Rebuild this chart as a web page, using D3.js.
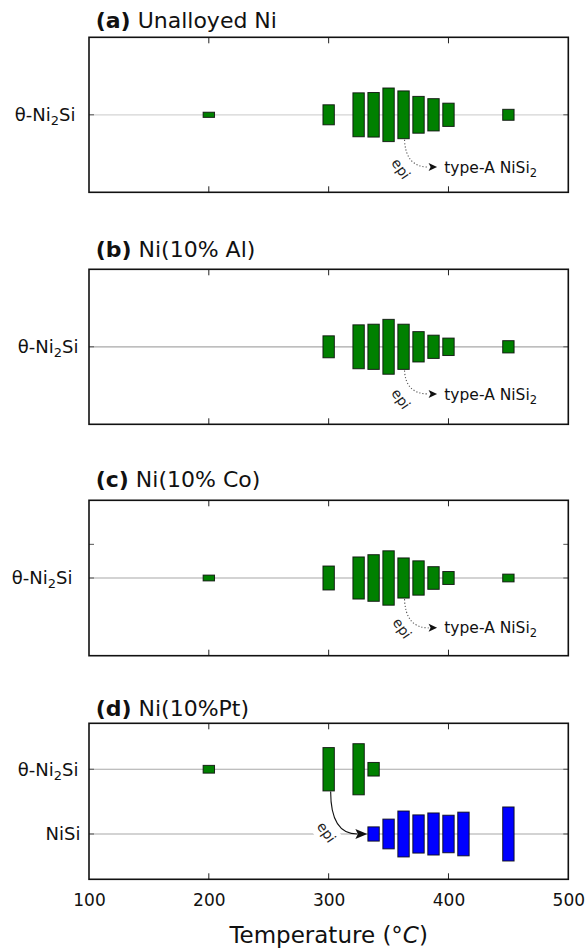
<!DOCTYPE html>
<html>
<head>
<meta charset="utf-8">
<script src="https://cdn.jsdelivr.net/npm/d3@7"></script>
<style>
  html, body { margin: 0; padding: 0; background: #fff; }
  svg { display: block; font-family: "DejaVu Sans", sans-serif; }
</style>
</head>
<body>
<svg id="chart" width="587" height="952"></svg>
<script>
// ---------------- data ----------------
const xTicks = [100, 200, 300, 400, 500];
const phaseNames = ["θ-Ni2Si", "NiSi"];
const panelTitles = [["(a)", " Unalloyed Ni"], ["(b)", " Ni(10% Al)"], ["(c)", " Ni(10% Co)"], ["(d)", " Ni(10%Pt)"]];

const tempsA = [200, 300, 325, 337.5, 350, 362.5, 375, 387.5, 400, 450];
const sizesA = [0.08, 0.31, 0.68, 0.69, 0.83, 0.74, 0.57, 0.50, 0.36, 0.17];

const tempsB = [300, 325, 337.5, 350, 362.5, 375, 387.5, 400, 450];
const sizesB = [0.34, 0.68, 0.70, 0.85, 0.70, 0.47, 0.36, 0.27, 0.19];

const tempsC = [200, 300, 325, 337.5, 350, 362.5, 375, 387.5, 400, 450];
const sizesC = [0.09, 0.37, 0.65, 0.72, 0.84, 0.62, 0.53, 0.35, 0.20, 0.12];

const tempsDTheta = [200, 300, 325, 337.5];
const sizesDTheta = [0.12, 0.67, 0.79, 0.21];

const tempsDNiSi = [337.5, 350, 362.5, 375, 387.5, 400, 412.5, 450];
const sizesDNiSi = [0.22, 0.46, 0.71, 0.59, 0.65, 0.58, 0.675, 0.835];

// ---------------- layout ----------------
const svg = d3.select("#chart");
const X0 = 89, X1 = 568.3;
const x = d3.scaleLinear().domain([100, 500]).range([X0, X1]);
const barHalfW = 4.75;
const GREEN = "#008000", BLUE = "#0000ff";

const panels = [
  { title: panelTitles[0], top: 37.3, bottom: 192.3, dom: [-1.2, 1.2], titleY: 28.3, gridColor: "#d4d4d4",
    cats: [{ name: phaseNames[0], idx: 0, labelX: 75.5 }],
    series: [{ t: tempsA, s: sizesA, cat: 0, color: GREEN }],
    extraYTicks: [], ann: { arrowStartT: 362.5, arrowStartS: sizesA[5], tipT: 390.5, tipY: 0.81, textT: 396.5, epiT: 360, epiY: 0.84 } },
  { title: panelTitles[1], top: 269.3, bottom: 424.3, dom: [-1.2, 1.2], titleY: 257.3, gridColor: "#a8a8a8",
    cats: [{ name: phaseNames[0], idx: 0, labelX: 78.5 }],
    series: [{ t: tempsB, s: sizesB, cat: 0, color: GREEN }],
    extraYTicks: [], ann: { arrowStartT: 362.5, arrowStartS: sizesB[4], tipT: 390.5, tipY: 0.73, textT: 396.5, epiT: 360, epiY: 0.81 } },
  { title: panelTitles[2], top: 500.3, bottom: 655.7, dom: [-1.2, 1.2], titleY: 486.7, gridColor: "#a8a8a8",
    cats: [{ name: phaseNames[0], idx: 0, labelX: 72.5 }],
    series: [{ t: tempsC, s: sizesC, cat: 0, color: GREEN }],
    extraYTicks: [-0.52], ann: { arrowStartT: 362.5, arrowStartS: sizesC[5], tipT: 390.5, tipY: 0.77, textT: 396.5, epiT: 361, epiY: 0.78 } },
  { title: panelTitles[3], top: 723.3, bottom: 879.3, dom: [-0.71, 1.70], titleY: 716, gridColor: "#a8a8a8",
    cats: [{ name: phaseNames[0], idx: 0, labelX: 78.5 }, { name: phaseNames[1], idx: 1, labelX: 80.5 }],
    series: [{ t: tempsDTheta, s: sizesDTheta, cat: 0, color: GREEN }, { t: tempsDNiSi, s: sizesDNiSi, cat: 1, color: BLUE }],
    extraYTicks: [], annD: { startT: 300, startS: sizesDTheta[1], tipT: 332.3, tipY: 1.0, epiT: 297.8, epiY: 0.977 }, xLabels: true }
];

function phaseLabel(g, name, xEnd, yc) {
  const t = g.append("text").attr("x", xEnd).attr("y", yc).attr("dy", "0.36em")
    .attr("text-anchor", "end").attr("font-size", 18).attr("fill", "#111");
  if (name.indexOf("2") >= 0) {
    const parts = name.split("2");
    t.append("tspan").text(parts[0]);
    t.append("tspan").attr("font-size", 13).attr("dy", 4).text("2");
    t.append("tspan").attr("dy", -4).text(parts[1]);
  } else {
    t.text(name);
  }
}

function epiLabel(g, cx, cy) {
  const eg = g.append("g").attr("transform", `translate(${cx},${cy}) rotate(55)`);
  eg.append("rect").attr("x", -13).attr("y", -11).attr("width", 26).attr("height", 22).attr("fill", "#fff");
  return eg;
}

panels.forEach((p) => {
  const g = svg.append("g");
  const y = d3.scaleLinear().domain(p.dom).range([p.top, p.bottom]);

  // title
  const tt = g.append("text").attr("x", 95.7).attr("y", p.titleY).attr("font-size", 22).attr("fill", "#111");
  tt.append("tspan").attr("font-weight", "bold").text(p.title[0]);
  tt.append("tspan").text(p.title[1]);

  // grid lines at categories
  p.cats.forEach(c => {
    g.append("line").attr("x1", X0).attr("x2", X1).attr("y1", y(c.idx)).attr("y2", y(c.idx))
      .attr("stroke", p.gridColor).attr("stroke-width", 1.2);
  });

  // annotation (dotted arrow) for a-c
  if (p.ann) {
    const a = p.ann;
    const sx = x(a.arrowStartT) + 1, sy = y(a.arrowStartS / 2) + 1;
    const tx = x(a.tipT), ty = y(a.tipY);
    const eg = epiLabel(g, x(a.epiT), y(a.epiY));
    eg.append("text").attr("text-anchor", "middle").attr("dy", "0.32em").attr("font-size", 14).attr("fill", "#222").text("epi");
    const bx = tx - 8.5;
    g.append("path").attr("d", `M${sx},${sy} Q${sx + 1},${ty} ${bx},${ty}`)
      .attr("fill", "none").attr("stroke", "#555").attr("stroke-width", 1.1).attr("stroke-dasharray", "1.2,2");
    g.append("path").attr("d", `M${tx},${ty} L${bx},${ty - 4} L${bx + 2},${ty} L${bx},${ty + 4} Z`).attr("fill", "#111");
    const at = g.append("text").attr("x", x(a.textT)).attr("y", ty).attr("dy", "0.36em").attr("font-size", 15.5).attr("fill", "#111");
    at.append("tspan").text("type-A NiSi");
    at.append("tspan").attr("font-size", 11.5).attr("dy", 4).text("2");
  }

  if (p.annD) {
    const a = p.annD;
    const eg = epiLabel(g, x(a.epiT), y(a.epiY));
    eg.append("text").attr("text-anchor", "middle").attr("dy", "0.32em").attr("font-size", 14).attr("fill", "#222").text("epi");
  }

  // bars
  p.series.forEach(sr => {
    const data = sr.t.map((t, i) => ({ t, s: sr.s[i] }));
    g.selectAll(null).data(data).enter().append("rect")
      .attr("x", d => x(d.t - barHalfW))
      .attr("width", d => x(d.t + barHalfW) - x(d.t - barHalfW))
      .attr("y", d => y(sr.cat - d.s / 2))
      .attr("height", d => y(sr.cat + d.s / 2) - y(sr.cat - d.s / 2))
      .attr("fill", sr.color).attr("stroke", "#0a0a0a").attr("stroke-opacity", 0.85).attr("stroke-width", 1);
  });

  if (p.annD) {
    const a = p.annD;
    const sx = x(a.startT) + 2, sy = y(a.startS / 2) + 0.5;
    const tx = x(a.tipT), ty = y(a.tipY);
    const bx = tx - 12;
    g.append("path").attr("d", `M${sx},${sy} Q${sx},${ty} ${bx + 2},${ty}`)
      .attr("fill", "none").attr("stroke", "#111").attr("stroke-width", 1.1);
    g.append("path").attr("d", `M${tx},${ty} L${bx},${ty - 5} L${bx + 2.5},${ty} L${bx},${ty + 5} Z`).attr("fill", "#111");
  }

  // ticks (inward, top and bottom)
  const tickLen = 6;
  xTicks.slice(1, -1).forEach(t => {
    g.append("line").attr("x1", x(t)).attr("x2", x(t)).attr("y1", p.top).attr("y2", p.top + tickLen).attr("stroke", "#222").attr("stroke-width", 1);
    g.append("line").attr("x1", x(t)).attr("x2", x(t)).attr("y1", p.bottom).attr("y2", p.bottom - tickLen).attr("stroke", "#222").attr("stroke-width", 1);
  });
  const yt = p.cats.map(c => c.idx).concat(p.extraYTicks);
  yt.forEach(v => {
    g.append("line").attr("x1", X0).attr("x2", X0 + 5).attr("y1", y(v)).attr("y2", y(v)).attr("stroke", "#555").attr("stroke-width", 1);
    g.append("line").attr("x1", X1).attr("x2", X1 - 5).attr("y1", y(v)).attr("y2", y(v)).attr("stroke", "#555").attr("stroke-width", 1);
  });

  // frame
  g.append("rect").attr("x", X0).attr("y", p.top).attr("width", X1 - X0).attr("height", p.bottom - p.top)
    .attr("fill", "none").attr("stroke", "#111").attr("stroke-width", 1.6);

  // category labels
  p.cats.forEach(c => phaseLabel(g, c.name, c.labelX, y(c.idx)));

  // x tick labels
  if (p.xLabels) {
    const ax = d3.axisBottom(x).tickValues(xTicks).tickSize(0).tickPadding(0).tickFormat(d3.format("d"));
    const axg = g.append("g").attr("transform", `translate(0,${p.bottom})`).call(ax);
    axg.select(".domain").remove();
    axg.selectAll("text").attr("font-size", 17).attr("font-family", "DejaVu Sans, sans-serif").attr("fill", "#111")
      .attr("dy", null).attr("y", 26.3);
    const lab = g.append("text").attr("x", x(300)).attr("y", 943).attr("text-anchor", "middle").attr("font-size", 23).attr("fill", "#111");
    lab.append("tspan").text("Temperature (°");
    lab.append("tspan").attr("font-style", "italic").text("C");
    lab.append("tspan").text(")");
  }
});
</script>
</body>
</html>
